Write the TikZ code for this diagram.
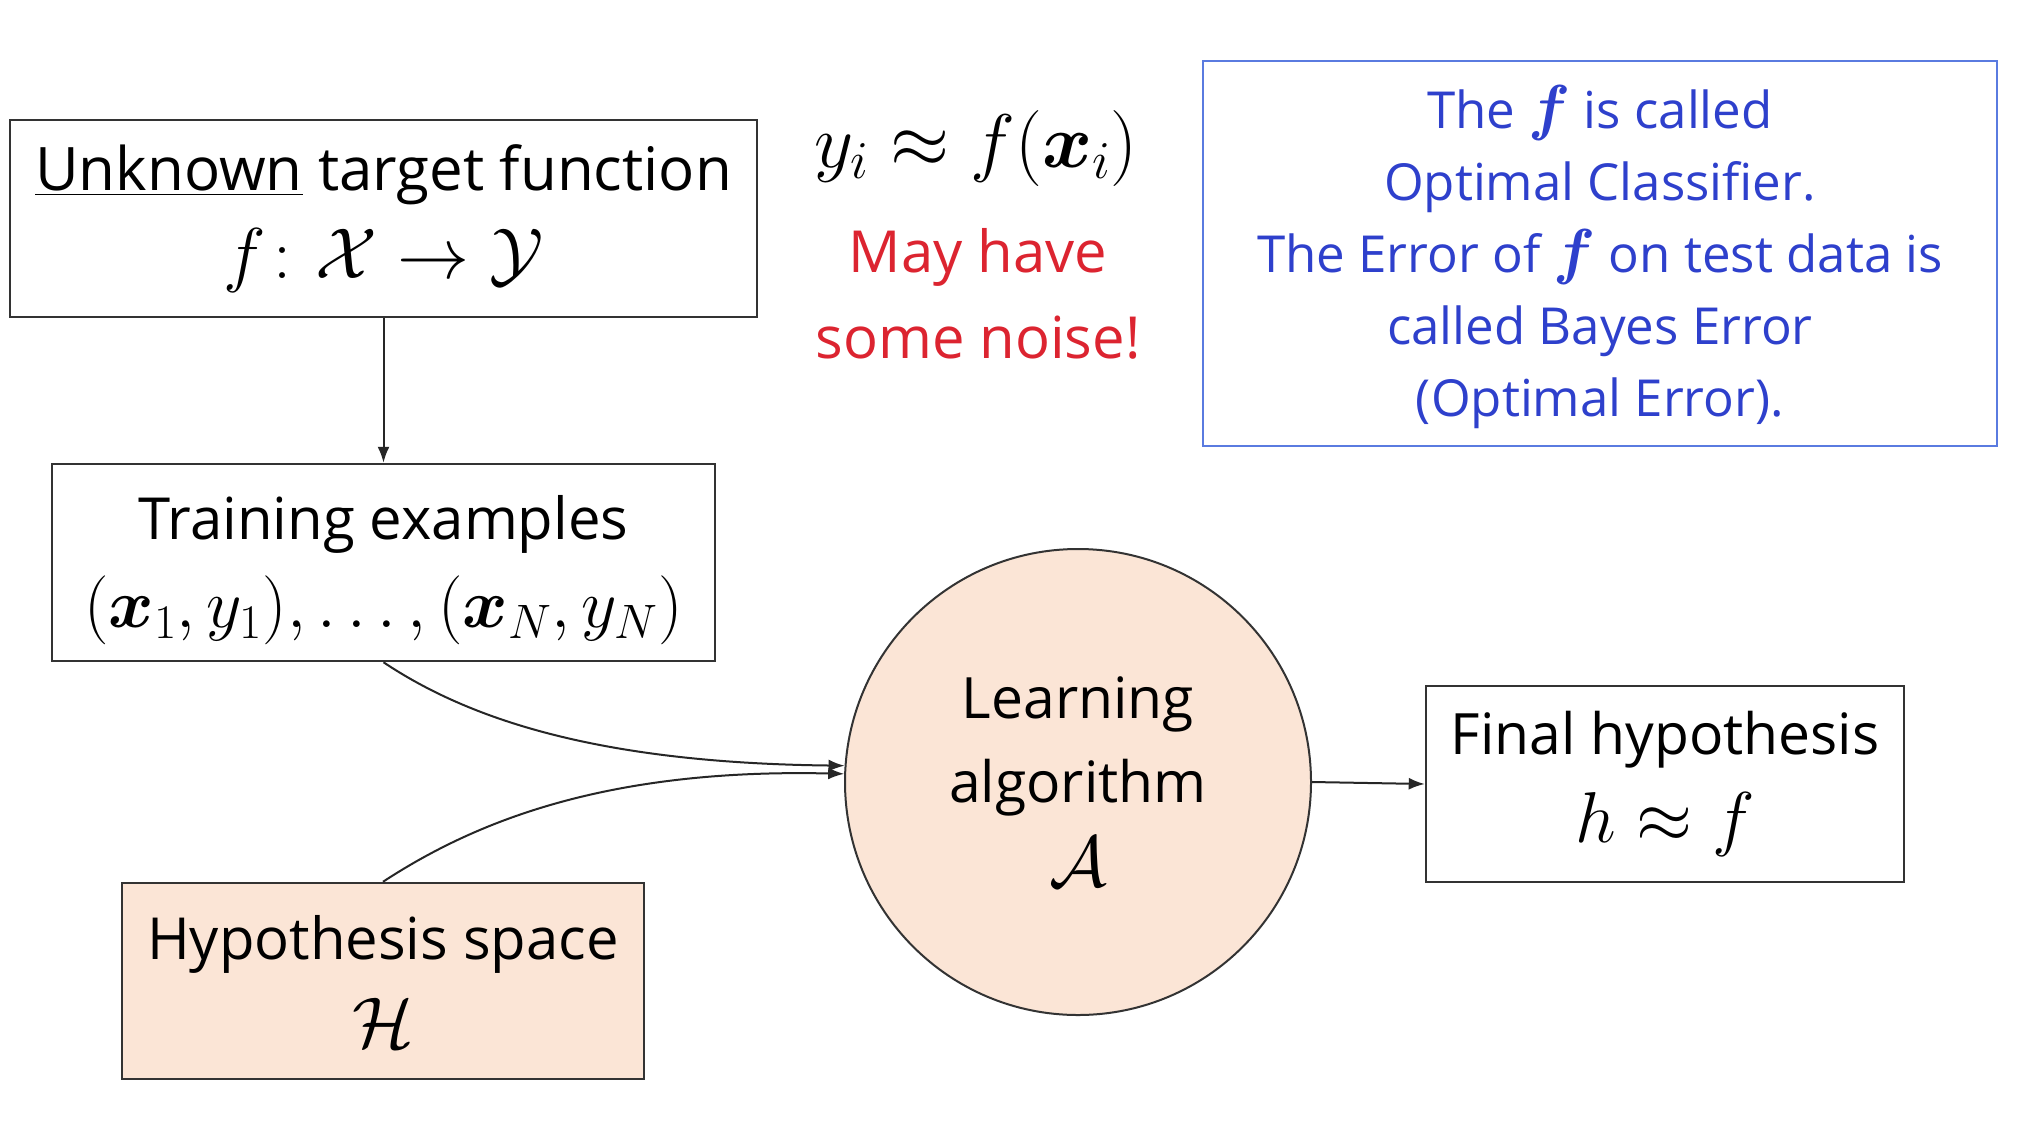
\RequirePackage{fix-cm}
\documentclass[tikz,border=0pt]{standalone}
\usepackage{amsmath,bm}
\usepackage{fontspec}
\setmainfont{Open Sans}
\usetikzlibrary{arrows.meta}
\definecolor{peach}{HTML}{FBE5D6}
\definecolor{noisered}{HTML}{DC2430}
\definecolor{noteblue}{HTML}{2E40CC}
\definecolor{noteframe}{HTML}{5A7BE0}
\definecolor{boxline}{HTML}{333333}
\newcommand{\bigmath}[1]{{\fontsize{72}{86}\selectfont$#1$}}
\begin{document}
\begin{tikzpicture}[x=1pt,y=-1pt,
  box/.style={draw=boxline, line width=2.5pt, align=center, inner sep=0pt},
  big/.style={font=\fontsize{58}{88}\selectfont},
  conn/.style={draw=black!85, line width=2pt, -{Latex[length=16pt,width=12pt]}}]
\useasboundingbox (0,0) rectangle (2021,1138);
\fill[white] (0,0) rectangle (2021,1138);

\node[box, font=\fontsize{60}{88}\selectfont, minimum width=747pt, minimum height=197pt] (target) at (383.5,218.5)
  {\underline{Unknown} target function\\ \bigmath{f\colon \mathcal{X}\rightarrow\mathcal{Y}}};
\node[box, big, minimum width=663pt, minimum height=197pt] (train) at (383.5,562.5)
  {\rule{0pt}{60pt}Training examples\\ {\fontsize{69}{86}\selectfont$(\bm{x}_1,y_1),\ldots,(\bm{x}_N,y_N)$}};
\node[box, big, fill=peach, minimum width=522pt, minimum height=196pt] (hyp) at (383,981)
  {Hypothesis space\\ \bigmath{\mathcal{H}}};
\node[box, circle, fill=peach, line width=2pt, minimum size=466pt,
  font=\fontsize{57}{84}\selectfont] (alg) at (1078,782)
  {Learning\\ algorithm\\ \bigmath{\mathcal{A}}};
\node[box, font=\fontsize{57}{88}\selectfont, minimum width=478pt, minimum height=196pt] (final) at (1665,784)
  {Final hypothesis\\ \bigmath{h\approx f}};

\node[inner sep=0pt, font=\fontsize{76}{88}\selectfont] (eq) at (976,148) {$y_i\approx f(\bm{x}_i)$};
\node[font=\fontsize{58}{86}\selectfont, text=noisered, align=center, inner sep=0pt] (noise) at (978,294)
  {May have\\ some noise!};

\node[draw=noteframe, line width=2.5pt, text=noteblue, align=center, inner sep=0pt,
  minimum width=794pt, minimum height=385pt,
  font=\fontsize{51}{72}\selectfont] (note) at (1600,253.5)
  {\rule{0pt}{50pt}The {\fontsize{62}{72}\selectfont$\bm{f}$} is called\\ Optimal Classifier.\\
   The Error of {\fontsize{62}{72}\selectfont$\bm{f}$} on test data is\\
   called Bayes Error\\ (Optimal Error).};

\draw[conn] (target.south) -- (train.north);
\draw[conn] (train.south) .. controls (470,720) and (600,763) .. (alg.176);
\draw[conn] (hyp.north) .. controls (470,825) and (600,768) .. (alg.178);
\draw[conn] (alg.east) -- (final.west);
\end{tikzpicture}
\end{document}
